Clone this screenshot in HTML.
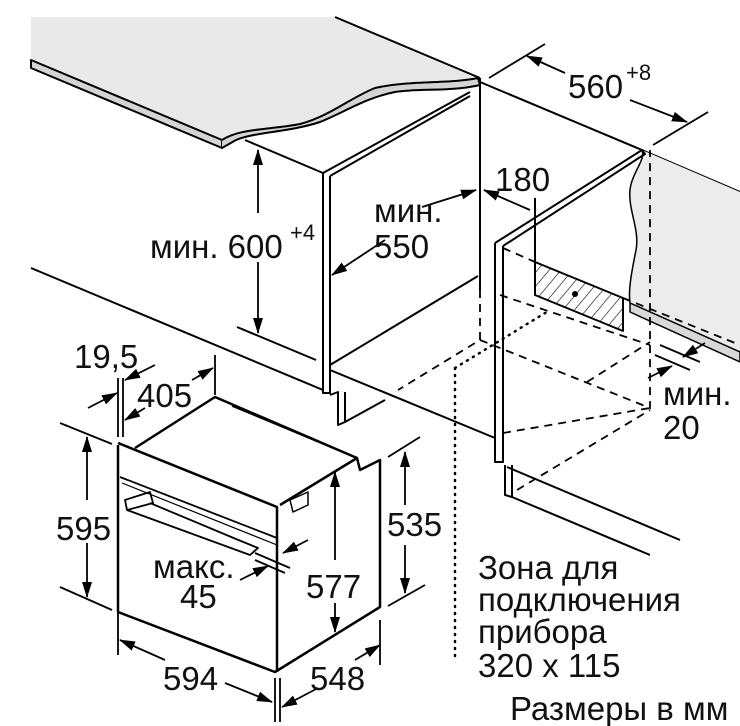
<!DOCTYPE html>
<html><head><meta charset="utf-8"><style>
html,body{margin:0;padding:0;background:#fff}
svg{display:block}
text{font-family:"Liberation Sans",sans-serif;fill:#111}
</style></head><body>
<svg width="740" height="726" viewBox="0 0 740 726" xmlns="http://www.w3.org/2000/svg">
<defs>
<marker id="a" markerWidth="16" markerHeight="10" refX="15" refY="5" orient="auto" markerUnits="userSpaceOnUse"><path d="M0,0 L16,5 L0,10 Z" fill="#000"/></marker>
<pattern id="h" width="9" height="9" patternUnits="userSpaceOnUse" patternTransform="rotate(40)"><line x1="0" y1="0" x2="0" y2="9" stroke="#000" stroke-width="1.2"/></pattern>
</defs>
<g stroke="#000" stroke-width="2" fill="none" stroke-linejoin="round">
<path d="M31,17 L335,17 L480,78 L480,86 C450,90 420,84 395,88 C365,92 345,108 320,118 C290,130 255,128 235,134 L225,142 L222,148 L31,68 Z" fill="#e9e9e9" stroke="none"/>
<path d="M31,60 L222,140 L222,148 L31,68 Z" fill="#d4d4d4"/>
<path d="M222,140 C240,128 270,130 300,124 C330,116 350,98 375,88 C410,80 450,84 478,78 L480,85 C450,92 420,88 395,92 C365,98 345,112 320,122 C290,132 255,132 236,140 L222,148" fill="#d4d4d4"/>
<path d="M335,17 L480,78"/>
<path d="M245,140 L323,173 L470,92"/>
<path d="M330,176 L470,96"/>
<path d="M323,173 L323,393 L330,393 L330,176"/>
<path d="M480,78 L480,290"/>
<path d="M31,268 L323,390"/>
<path d="M237,327 L316,360"/>
<path d="M330,365 L478,276"/>
<path d="M330,370 L495,438"/>
<path d="M330,395 L338,392 L338,425 L345,422 L345,392"/>
<path d="M345,422 L385,400"/>
<path d="M480,82 L642,150 L740,192"/>
<path d="M642,150 C646,160 632,172 630,190 C628,210 640,230 636,250 C632,270 628,290 630,303 L740,352 L740,192 Z" fill="#ececec" stroke="none"/>
<path d="M630,303 L740,352 L740,362 L630,312 Z" fill="#d8d8d8" stroke-width="1.5"/>
<path d="M642,150 C646,160 632,172 630,190 C628,210 640,230 636,250 C632,270 628,290 630,303" stroke-width="1.5"/>
<path d="M495,243 L642,150 L645,154 L503,246"/>
<path d="M495,243 L495,462 L503,462 L503,246"/>
<path d="M505,465 L505,495 L512,497 L512,465"/>
<path d="M507,467 L680,540"/>
<path d="M512,497 L650,555"/>
<path d="M535,262 L623,298 L623,331 L535,295 Z" fill="url(#h)"/>
<circle cx="575" cy="294" r="3" fill="#000" stroke="none"/>
<path d="M535,198 L535,262"/>
</g>
<g stroke="#000" stroke-width="1.8" fill="none" stroke-dasharray="8,6">
<path d="M480,290 L480,340 L398,390"/>
<path d="M480,340 L650,408 L650,150"/>
<path d="M503,433 L650,408"/>
<path d="M517,490 L650,410"/>
<path d="M500,295 L650,345"/>
<path d="M503,248 L535,262"/>
<path d="M623,298 L740,345"/>
<path d="M587,382 L650,342"/>
</g>
<g stroke="#000" stroke-width="2.5" fill="none" stroke-dasharray="1,6" stroke-linecap="round">
<path d="M455,368 L455,660"/>
<path d="M455,368 L550,310"/>
</g>
<g stroke="#000" stroke-width="2.5" fill="none" stroke-linejoin="round">
<path d="M118,445 L118,612 L275,672 L380,607 L380,460 L360,470 L357,458 L280,505"/>
<path d="M135,448 L215,397 L357,458"/>
<path d="M118,443 L277,507 L277,672"/>
<path d="M120,477 L277,538" stroke-width="1.8"/>
<path d="M122,483 L277,545" stroke-width="1.2"/>
<path d="M125,500 L150,492 L153,503 L127,510 Z" stroke-width="1.8"/>
<path d="M127,510 L250,555 L258,548 L236,539 L150,503" stroke-width="1.8"/>
<path d="M290,500 L308,492 L308,505 L293,512 Z" stroke-width="1.5"/>
<path d="M232,406 L357,458" stroke-width="1.5"/>
</g>
<g stroke="#000" stroke-width="1.8" fill="none">
<path d="M258,213 L258,150" marker-end="url(#a)"/>
<path d="M258,262 L258,333" marker-end="url(#a)"/>
<path d="M422,207 L476,190" marker-end="url(#a)"/>
<path d="M385,240 L332,275" marker-end="url(#a)"/>
<path d="M530,210 L484,190" marker-end="url(#a)"/>
<path d="M565,73 L527,56" marker-end="url(#a)"/>
<path d="M630,100 L687,122" marker-end="url(#a)"/>
<path d="M489,78 L545,44"/>
<path d="M653,145 L708,112"/>
<path d="M705,343 L683,357" marker-end="url(#a)"/>
<path d="M648,378 L672,366" marker-end="url(#a)"/>
<path d="M660,345 L700,362"/>
<path d="M655,355 L690,370"/>
<path d="M60,423 L112,444"/>
<path d="M60,587 L112,610"/>
<path d="M87,500 L87,437" marker-end="url(#a)"/>
<path d="M87,543 L87,597" marker-end="url(#a)"/>
<path d="M388,457 L420,437"/>
<path d="M388,606 L425,585"/>
<path d="M405,505 L405,452" marker-end="url(#a)"/>
<path d="M405,545 L405,593" marker-end="url(#a)"/>
<path d="M335,560 L335,472" marker-end="url(#a)"/>
<path d="M335,603 L335,632" marker-end="url(#a)"/>
<path d="M118,590 L118,655"/>
<path d="M275,678 L275,722"/>
<path d="M280,678 L280,722"/>
<path d="M380,620 L380,665"/>
<path d="M165,660 L120,640" marker-end="url(#a)"/>
<path d="M225,683 L272,702" marker-end="url(#a)"/>
<path d="M318,688 L282,707" marker-end="url(#a)"/>
<path d="M355,660 L380,645" marker-end="url(#a)"/>
<path d="M215,355 L215,395"/>
<path d="M118,378 L118,437"/>
<path d="M123,378 L123,437"/>
<path d="M88,408 L117,393" marker-end="url(#a)"/>
<path d="M155,365 L125,380" marker-end="url(#a)"/>
<path d="M145,408 L125,420" marker-end="url(#a)"/>
<path d="M192,380 L213,368" marker-end="url(#a)"/>
<path d="M255,553 L290,568"/>
<path d="M255,560 L285,573"/>
<path d="M240,580 L268,566" marker-end="url(#a)"/>
<path d="M308,540 L283,553" marker-end="url(#a)"/>
</g>
<g font-size="33">
<text x="150" y="258">мин. 600</text>
<text x="290" y="240" font-size="22">+4</text>
<text x="374" y="222">мин.</text>
<text x="374" y="258">550</text>
<text x="495" y="191">180</text>
<text x="568" y="98">560</text>
<text x="626" y="80" font-size="22">+8</text>
<text x="663" y="405">мин.</text>
<text x="663" y="439">20</text>
<text x="74" y="368">19,5</text>
<text x="137" y="407">405</text>
<text x="56" y="540">595</text>
<text x="387" y="536">535</text>
<text x="306" y="598">577</text>
<text x="153" y="578">макс.</text>
<text x="180" y="608">45</text>
<text x="163" y="690">594</text>
<text x="310" y="690">548</text>
<text x="478" y="579">Зона для</text>
<text x="478" y="611">подключения</text>
<text x="478" y="643">прибора</text>
<text x="478" y="677">320 x 115</text>
<text x="510" y="720">Размеры в мм</text>
</g>
</svg>
</body></html>
